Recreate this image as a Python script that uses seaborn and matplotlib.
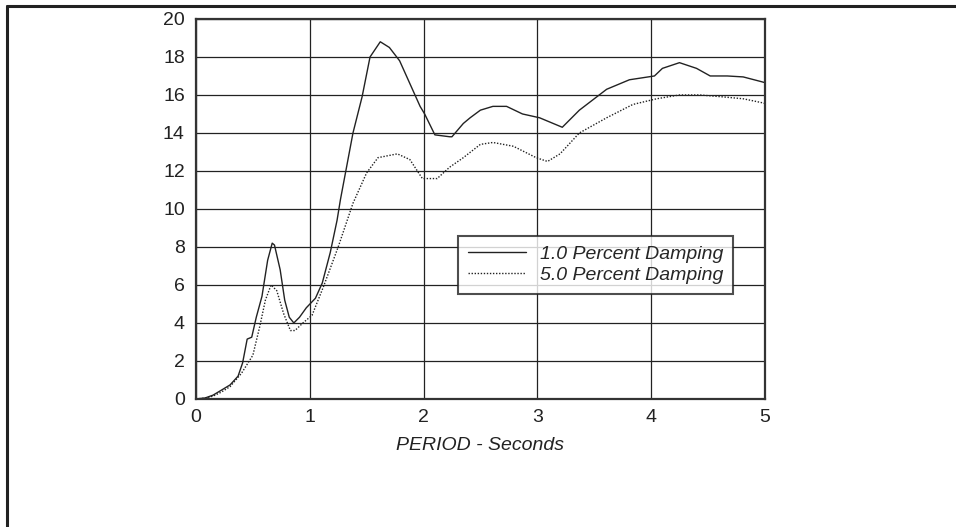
import numpy as np
import pandas as pd
import matplotlib.pyplot as plt
import seaborn as sns
from matplotlib.lines import Line2D


# data (period in s, response)
period_1 = [0.0, 0.08, 0.15, 0.22, 0.3, 0.37, 0.41, 0.45, 0.49, 0.53, 0.58, 0.63, 0.67, 0.69,
            0.74, 0.78, 0.82, 0.86, 0.91, 0.97, 1.05, 1.11, 1.18, 1.24, 1.27, 1.38, 1.46,
            1.53, 1.62, 1.70, 1.79, 1.88, 1.97, 2.01, 2.10, 2.23, 2.25, 2.35, 2.41, 2.50,
            2.61, 2.73, 2.87, 3.02, 3.22, 3.37, 3.61, 3.81, 4.03, 4.10, 4.25, 4.40, 4.52,
            4.67, 4.81, 4.97, 5.0]
damp_1 = [0.0, 0.05, 0.2, 0.45, 0.74, 1.2, 1.9, 3.15, 3.25, 4.3, 5.4, 7.3, 8.2, 8.1,
          6.8, 5.2, 4.3, 4.0, 4.3, 4.8, 5.3, 6.1, 7.7, 9.4, 10.5, 14.0, 15.9,
          18.0, 18.8, 18.5, 17.8, 16.6, 15.4, 15.0, 13.9, 13.8, 13.8, 14.5, 14.8, 15.2,
          15.4, 15.4, 15.0, 14.8, 14.3, 15.2, 16.3, 16.8, 17.0, 17.4, 17.7, 17.4, 17.0,
          17.0, 16.95, 16.7, 16.65]

period_5 = [0.0, 0.08, 0.15, 0.22, 0.3, 0.40, 0.5, 0.56, 0.61, 0.66, 0.71, 0.77, 0.83, 0.87,
            0.94, 1.02, 1.12, 1.25, 1.38, 1.50, 1.60, 1.77, 1.88, 1.99, 2.12, 2.23,
            2.35, 2.50, 2.61, 2.79, 2.99, 3.09, 3.20, 3.37, 3.61, 3.84, 4.05, 4.25,
            4.43, 4.63, 4.81, 4.97, 5.0]
damp_5 = [0.0, 0.04, 0.15, 0.35, 0.65, 1.35, 2.3, 3.8, 5.2, 6.0, 5.7, 4.5, 3.6, 3.6,
          4.0, 4.4, 5.9, 8.0, 10.3, 11.9, 12.7, 12.9, 12.6, 11.6, 11.6, 12.2,
          12.7, 13.4, 13.5, 13.3, 12.7, 12.5, 12.9, 14.0, 14.8, 15.5, 15.8, 16.0,
          16.0, 15.9, 15.8, 15.6, 15.55]

labels = ["1.0 Percent Damping", "5.0 Percent Damping"]

df = pd.concat([
    pd.DataFrame({"period": period_1, "value": damp_1, "series": labels[0]}),
    pd.DataFrame({"period": period_5, "value": damp_5, "series": labels[1]}),
])

sns.set_style("white")
plt.rcParams['font.family'] = ['Liberation Sans', 'DejaVu Sans']

fig = plt.figure(figsize=(9.56, 5.27), dpi=100)
ax = fig.add_axes([0.205, 0.243, 0.595, 0.721])

sns.lineplot(data=df, x="period", y="value", hue="series", style="series",
             palette=["#222222", "#222222"], dashes=[(None, None), (1, 1.2)],
             linewidth=1.0, ax=ax, legend=False, sort=False)

ax.set_xlim(0, 5)
ax.set_ylim(0, 20)
ax.set_xticks(range(0, 6))
ax.set_yticks(range(0, 21, 2))
ax.grid(True, color="#222222", linewidth=0.9)
ax.tick_params(labelsize=14, length=0, colors="#222222")
ax.tick_params(axis="x", pad=7.5)
ax.tick_params(axis="y", pad=8)
for s in ax.spines.values():
    s.set_color("#333333")
    s.set_linewidth(1.6)
ax.set_xlabel("PERIOD - Seconds", fontsize=14, style="italic", labelpad=8, color="#222222")
ax.set_ylabel("")

# legend box
handles = [Line2D([], [], color="#222222", lw=1.0),
           Line2D([], [], color="#222222", lw=1.0, ls=(0, (1, 1.2)))]
leg = ax.legend(handles, labels, loc="upper left", bbox_to_anchor=(0.4605, 0.429),
                borderaxespad=0, frameon=True, fancybox=False, shadow=False,
                edgecolor="#222222", prop={"size": 14, "style": "italic"},
                handlelength=3.0, borderpad=0.5, labelspacing=0.15, handletextpad=0.7)
leg.get_frame().set_linewidth(1.5)

# frame lines around the figure
fig.add_artist(Line2D([0.007, 1.0], [0.989, 0.989], color="#222222", lw=2.2,
                      transform=fig.transFigure))
fig.add_artist(Line2D([0.007, 0.007], [0.0, 0.989], color="#222222", lw=2.2,
                      transform=fig.transFigure))

fig.savefig("out.png", dpi=100)
